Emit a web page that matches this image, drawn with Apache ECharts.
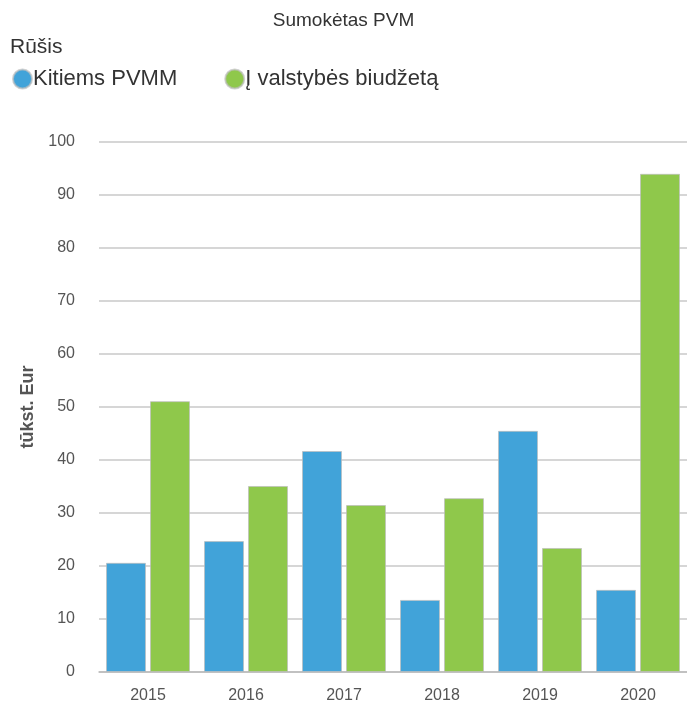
<!DOCTYPE html>
<html><head><meta charset="utf-8">
<script src="https://cdn.jsdelivr.net/npm/echarts@6/dist/echarts.min.js"></script>
<style>html,body{margin:0;padding:0;background:#fff}#c{width:687px;height:709px}</style>
</head><body><div id="c"></div>
<script>
const categories = ['2015','2016','2017','2018','2019','2020'];
const seriesNames = ['Kitiems PVMM','Į valstybės biudžetą'];
const kitiems = [20.6, 24.7, 41.7, 13.6, 45.5, 15.5];
const biudzetas = [51.1, 35.1, 31.5, 32.8, 23.4, 94.0];
const yTicks = {min:0, max:100, interval:10};

const FF = 'Liberation Sans, Arial, sans-serif';
const chart = echarts.init(document.getElementById('c'));
chart.setOption({
  animation:false,
  textStyle:{fontFamily:FF},
  title:{text:'Sumokėtas PVM', left:'center', top:6, textStyle:{fontSize:19, fontWeight:'normal', color:'#333', fontFamily:FF}},
  graphic:[{type:'text', left:10, top:37, style:{text:'Rūšis', fontSize:21, fill:'#333', fontFamily:FF}}],
  legend:{left:7, top:63, icon:'circle', itemWidth:19, itemHeight:19, itemGap:47,
    textStyle:{fontSize:22, color:'#333', padding:[0,0,0,-4], fontFamily:FF}, data:seriesNames},
  grid:{left:99, top:142, width:590, height:530, containLabel:false},
  xAxis:{type:'category', data:categories,
    axisLine:{lineStyle:{color:'#bbb', width:1.5}}, axisTick:{show:false},
    axisLabel:{color:'#555', fontSize:16, margin:16}},
  yAxis:{type:'value', min:yTicks.min, max:yTicks.max, interval:yTicks.interval,
    name:'tūkst. Eur', nameLocation:'middle', nameGap:62, nameRotate:90,
    nameTextStyle:{color:'#555', fontWeight:'bold', fontSize:18},
    axisLine:{show:false}, axisTick:{show:false},
    axisLabel:{color:'#555', fontSize:16, margin:24},
    splitLine:{lineStyle:{color:'#c8c8c8', width:1.5}}},
  series:[
    {name:seriesNames[0], type:'bar', data:kitiems, barWidth:40, barGap:'10%',
      itemStyle:{color:'#41a3d9', borderColor:'rgba(190,190,190,0.7)', borderWidth:1}},
    {name:seriesNames[1], type:'bar', data:biudzetas, barWidth:40, barGap:'10%',
      itemStyle:{color:'#8fc84b', borderColor:'rgba(190,190,190,0.7)', borderWidth:1}}
  ]
});
</script></body></html>
